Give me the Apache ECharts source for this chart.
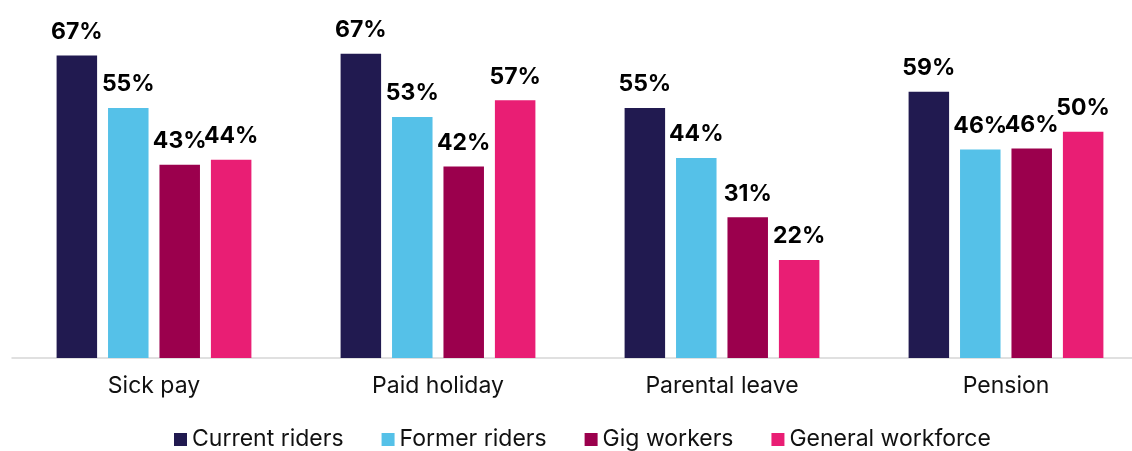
<!DOCTYPE html>
<html>
<head>
<meta charset="utf-8">
<script src="https://cdn.jsdelivr.net/npm/echarts@6/dist/echarts.min.js"></script>
<style>
  html, body { margin: 0; padding: 0; background: #fff; overflow: hidden; }
  /* 차트가 오른쪽으로 살짝 잘려 있어서 창보다 넓게 그림 */
  #chart { width: 1148px; height: 451px; }
</style>
</head>
<body>
<div id="chart"></div>
<script>
// categories + series values (%)
const CATEGORIES = ['Sick pay', 'Paid holiday', 'Parental leave', 'Pension']
const SERIES_NAMES = ['Current riders', 'Former riders', 'Gig workers', 'General workforce']
const CURRENT_RIDERS = [67.0, 67.4, 55.4, 59.0]
const FORMER_RIDERS  = [55.4, 53.4, 44.3, 46.2]
const GIG_WORKERS    = [42.8, 42.4, 31.2, 46.4]
const GENERAL_WORK   = [43.9, 57.1, 21.7, 50.1]
const COLORS = ['#211a50', '#55c1e8', '#9b004d', '#e91e74']

const VALUES = [CURRENT_RIDERS, FORMER_RIDERS, GIG_WORKERS, GENERAL_WORK]
const FONT = 'Inter, "Noto Sans", sans-serif'

const chart = echarts.init(document.getElementById('chart'), null, { renderer: 'canvas' })

const series = SERIES_NAMES.map((name, i) => ({
  name,
  type: 'bar',
  data: VALUES[i],
  barWidth: 40.5,
  barGap: '27%',
  itemStyle: { color: COLORS[i] },
  label: {
    show: true,
    position: 'top',
    distance: 12,
    color: '#000',
    fontFamily: FONT,
    fontWeight: 'bold',
    fontSize: 23,
    formatter: p => Math.round(p.value) + '%',
  },
}))

chart.setOption({
  animation: false,
  backgroundColor: '#fff',
  grid: { left: 12, right: 0, top: 42, bottom: 93, containLabel: false },
  legend: {
    data: SERIES_NAMES,
    left: 174,
    top: 428,
    padding: 0,
    icon: 'rect',
    itemWidth: 13,
    itemHeight: 13,
    itemGap: 38,
    textStyle: { color: '#111', fontFamily: FONT, fontSize: 23 },
  },
  xAxis: {
    type: 'category',
    data: CATEGORIES,
    axisLine: { lineStyle: { color: '#d6d6d6', width: 1.5 } },
    axisTick: { show: false },
    axisLabel: { color: '#111', fontFamily: FONT, fontSize: 23, margin: 17 },
  },
  yAxis: {
    type: 'value',
    min: 0,
    max: 70,
    show: false,
    splitLine: { show: false },
  },
  series,
})
</script>
</body>
</html>
